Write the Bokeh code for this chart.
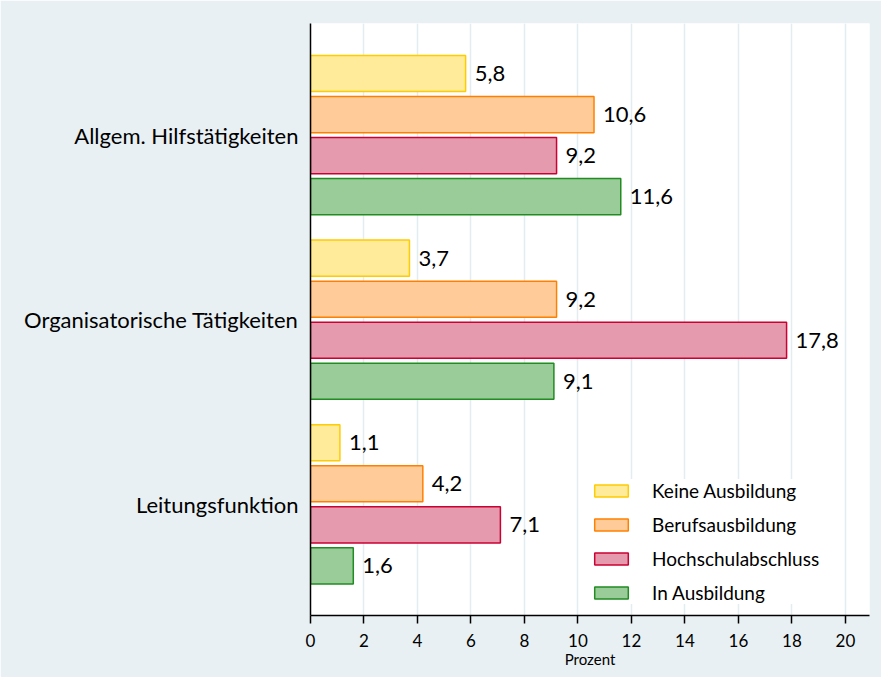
from bokeh.plotting import figure
from bokeh.models import Range1d, FixedTicker, Legend, LegendItem, ColumnDataSource
from bokeh.core.properties import value
from bokeh.embed import file_html
from bokeh.resources import INLINE

categories = ["Allgem. Hilfstätigkeiten", "Organisatorische Tätigkeiten", "Leitungsfunktion"]
series = ["Keine Ausbildung", "Berufsausbildung", "Hochschulabschluss", "In Ausbildung"]
keine = [5.8, 3.7, 1.1]
beruf = [10.6, 9.2, 4.2]
hochschule = [9.2, 17.8, 7.1]
in_ausb = [11.6, 9.1, 1.6]
x_ticks = [0, 2, 4, 6, 8, 10, 12, 14, 16, 18, 20]

values_by_series = [keine, beruf, hochschule, in_ausb]
fills = ["#FFEB99", "#FFCC99", "#E59AAD", "#99CC99"]
lines = ["#FFCC00", "#FF8000", "#CC0033", "#228B22"]

FONT = "Lato"
group_step = 4.5
offsets = [-1.5, -0.5, 0.5, 1.5]

p = figure(width=881, height=677, output_backend="svg", toolbar_location=None,
           x_range=Range1d(0, 20.9), y_range=Range1d(11.71, -2.72),
           min_border_left=310, min_border_right=12, min_border_top=23, min_border_bottom=62)
p.border_fill_color = "#E8F0F3"
p.background_fill_color = "white"
p.outline_line_color = None

renderers = []
for s_i, vals in enumerate(values_by_series):
    ys = [g * group_step + offsets[s_i] for g in range(len(categories))]
    src = ColumnDataSource(dict(y=ys, right=vals,
                                label=[f"{v:.1f}".replace(".", ",") for v in vals]))
    r = p.hbar(y="y", left=0, right="right", height=0.88, source=src,
               fill_color=fills[s_i], line_color=lines[s_i], line_width=1.5)
    renderers.append(r)
    p.text(x="right", y="y", text="label", source=src, x_offset=9,
           text_baseline="middle", text_align="left", text_font=value(FONT),
           text_font_size="22px", text_color="black")

legend = Legend(items=[LegendItem(label=series[i], renderers=[renderers[i]]) for i in range(4)],
                location=(280, 11), glyph_width=42, glyph_height=15,
                label_text_font=FONT, label_text_font_size="19px", label_standoff=20,
                label_text_color="black",
                spacing=11, padding=4, margin=0, border_line_color=None,
                background_fill_color="white", background_fill_alpha=1.0)
p.add_layout(legend, "center")

p.xaxis.ticker = FixedTicker(ticks=x_ticks)
p.xaxis.axis_label = "Prozent"
p.xaxis.axis_label_text_font = FONT
p.xaxis.axis_label_text_font_style = "normal"
p.xaxis.axis_label_text_font_size = "15px"
p.xaxis.axis_label_text_color = "black"
p.xaxis.axis_label_standoff = 0
p.xaxis.major_label_text_font = FONT
p.xaxis.major_label_text_font_size = "17px"
p.xaxis.major_label_text_color = "black"
p.xaxis.major_label_standoff = 10
p.xaxis.major_tick_out = 8
p.xaxis.major_tick_in = 0
p.xaxis.minor_tick_line_color = None
p.xaxis.axis_line_color = "black"
p.xaxis.axis_line_width = 1.5
p.xaxis.major_tick_line_color = "black"
p.xaxis.major_tick_line_width = 1.5

p.yaxis.ticker = FixedTicker(ticks=[g * group_step for g in range(len(categories))])
p.yaxis.major_label_overrides = {g * group_step: c for g, c in enumerate(categories)}
p.yaxis.major_label_text_font = FONT
p.yaxis.major_label_text_font_size = "22px"
p.yaxis.major_label_text_color = "black"
p.yaxis.major_label_standoff = 6
p.yaxis.major_tick_line_color = None
p.yaxis.minor_tick_line_color = None
p.yaxis.axis_line_color = "black"
p.yaxis.axis_line_width = 1.5

p.xgrid.grid_line_color = "#E3ECEF"
p.xgrid.grid_line_width = 1.5
p.ygrid.grid_line_color = None

open("out.html", "w").write(file_html(p, INLINE))
